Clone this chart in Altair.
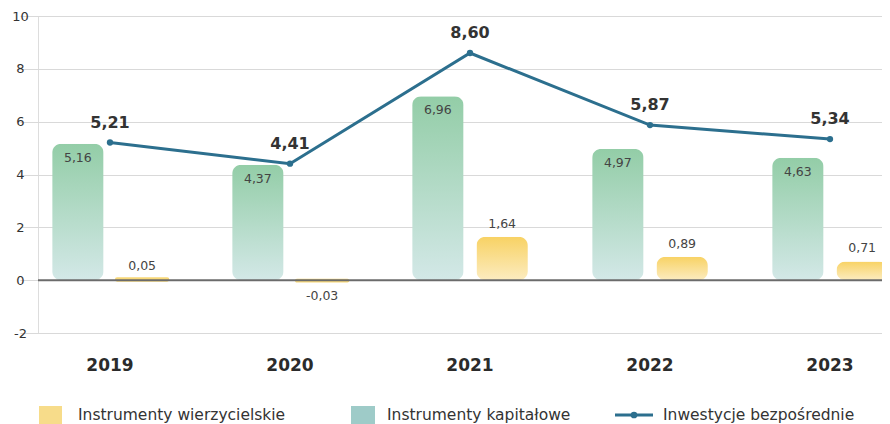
import altair as alt
import pandas as pd

years = ["2019", "2020", "2021", "2022", "2023"]
kapitalowe = [5.16, 4.37, 6.96, 4.97, 4.63]
wierzycielskie = [0.05, -0.03, 1.64, 0.89, 0.71]
bezposrednie = [5.21, 4.41, 8.60, 5.87, 5.34]
series_names = ["Instrumenty kapitałowe", "Instrumenty wierzycielskie", "Inwestycje bezpośrednie"]

FONT = "DejaVu Sans"

def fmt(v):
    return f"{v:.2f}".replace(".", ",")

rows = []
for y, k, w in zip(years, kapitalowe, wierzycielskie):
    rows.append({"year": y, "series": series_names[0], "value": k, "label": fmt(k)})
    rows.append({"year": y, "series": series_names[1], "value": w, "label": fmt(w)})
bars = pd.DataFrame(rows)
line_df = pd.DataFrame({"year": years, "value": bezposrednie, "label": [fmt(v) for v in bezposrednie]})

x_enc = alt.X("year:N", sort=years, title=None,
              scale=alt.Scale(range=[-18, 882], paddingInner=0, paddingOuter=0),
              axis=alt.Axis(labelAngle=0, labelFont=FONT, labelFontSize=17, labelFontWeight="bold",
                            labelColor="#2b2b2b", labelPadding=24, domain=False, ticks=False, grid=False))
y_enc = alt.Y("value:Q", title=None,
              scale=alt.Scale(domain=[-2, 10], nice=False, zero=False),
              axis=alt.Axis(values=[-2, 0, 2, 4, 6, 8, 10], labelExpr="datum.value + ''",
                            labelFont=FONT, labelFontSize=13,
                            labelColor="#333333", labelAlign="center", labelPadding=18,
                            domain=False, ticks=False, grid=True, gridColor="#d9d9d9", gridWidth=1.2))
xoff = alt.XOffset("series:N", scale=alt.Scale(domain=series_names[:2], paddingInner=0.2, paddingOuter=0.5))

base = alt.Chart(bars)

green_grad = alt.Gradient(gradient="linear", x1=0, x2=0, y1=1, y2=0,
                          stops=[alt.GradientStop(color="#d3e8e7", offset=0),
                                 alt.GradientStop(color="#93cda7", offset=1)])
yellow_grad = alt.Gradient(gradient="linear", x1=0, x2=0, y1=1, y2=0,
                           stops=[alt.GradientStop(color="#fcecc0", offset=0),
                                  alt.GradientStop(color="#f8d264", offset=1)])

is_green = alt.datum.series == series_names[0]
is_yellow = alt.datum.series == series_names[1]
small = (alt.datum.value < 0.2) & (alt.datum.value > -0.2)

green = base.transform_filter(is_green).mark_bar(
    cornerRadius=9, color=green_grad).encode(x=x_enc, y=y_enc, xOffset=xoff)
yellow = base.transform_filter(is_yellow & ~small).mark_bar(
    cornerRadius=9, color=yellow_grad).encode(x=x_enc, y=y_enc, xOffset=xoff)
yellow_small = base.transform_filter(is_yellow & small).mark_bar(
    cornerRadius=1, color="#f8d878", stroke="#f8d878", strokeWidth=3, strokeJoin="round").encode(
    x=x_enc, y=y_enc, xOffset=xoff)

zero = alt.Chart(pd.DataFrame({"z": [0]})).mark_rule(color="#6b6b6b", strokeWidth=2).encode(y="z:Q")

green_lbl = base.transform_filter(is_green).mark_text(
    font=FONT, fontSize=12.5, color="#444444", baseline="middle", dy=14).encode(
    x=x_enc, y="value:Q", xOffset=xoff, text="label:N")
yellow_pos = base.transform_filter(is_yellow & (alt.datum.value >= 0)).mark_text(
    font=FONT, fontSize=12.5, color="#444444", baseline="middle", dy=-13).encode(
    x=x_enc, y="value:Q", xOffset=xoff, text="label:N")
yellow_neg = base.transform_filter(is_yellow & (alt.datum.value < 0)).mark_text(
    font=FONT, fontSize=12.5, color="#444444", baseline="middle", dy=15).encode(
    x=x_enc, y="value:Q", xOffset=xoff, text="label:N")

lbase = alt.Chart(line_df)
line = lbase.mark_line(color="#2c6f8e", strokeWidth=3).encode(x=x_enc, y="value:Q")
pts = lbase.mark_point(filled=True, color="#2c6f8e", size=40, opacity=1).encode(x=x_enc, y="value:Q")
line_lbl = lbase.mark_text(font=FONT, fontSize=16, fontWeight="bold", color="#333333",
                           baseline="middle", dy=-20).encode(x=x_enc, y="value:Q", text="label:N")

# legend
leg = pd.DataFrame({"name": series_names})
leg_y = 399
def legtext(i, x):
    return alt.Chart(leg).transform_filter(alt.datum.name == series_names[i]).mark_text(
        font=FONT, fontSize=15.5, color="#333333", align="left", baseline="middle").encode(
        x=alt.value(x), y=alt.value(leg_y), text="name:N")

sq1 = alt.Chart(leg).transform_filter(alt.datum.name == series_names[1]).mark_rect(color="#f7dc8a").encode(
    x=alt.value(1), x2=alt.value(24), y=alt.value(leg_y - 9), y2=alt.value(leg_y + 9))
sq2 = alt.Chart(leg).transform_filter(alt.datum.name == series_names[0]).mark_rect(color="#9ecbc8").encode(
    x=alt.value(313), x2=alt.value(337), y=alt.value(leg_y - 9), y2=alt.value(leg_y + 9))
ln3 = alt.Chart(leg).transform_filter(alt.datum.name == series_names[2]).mark_rule(
    color="#2c6f8e", strokeWidth=3).encode(x=alt.value(577), x2=alt.value(615), y=alt.value(leg_y))
dt3 = alt.Chart(leg).transform_filter(alt.datum.name == series_names[2]).mark_point(
    filled=True, color="#2c6f8e", size=45, opacity=1).encode(x=alt.value(596), y=alt.value(leg_y))

chart = alt.layer(green, yellow, yellow_small, zero, green_lbl, yellow_pos, yellow_neg, line, pts, line_lbl,
                  sq1, legtext(1, 40), sq2, legtext(0, 349), ln3, dt3, legtext(2, 625)).properties(
    width=844, height=317,
    autosize=alt.AutoSizeParams(type="none"),
    padding={"left": 30, "top": 8, "right": 0, "bottom": 92},
).configure_view(stroke=None).configure(background="white")

chart.save("out.html", embed_options={"renderer": "svg", "actions": False})
